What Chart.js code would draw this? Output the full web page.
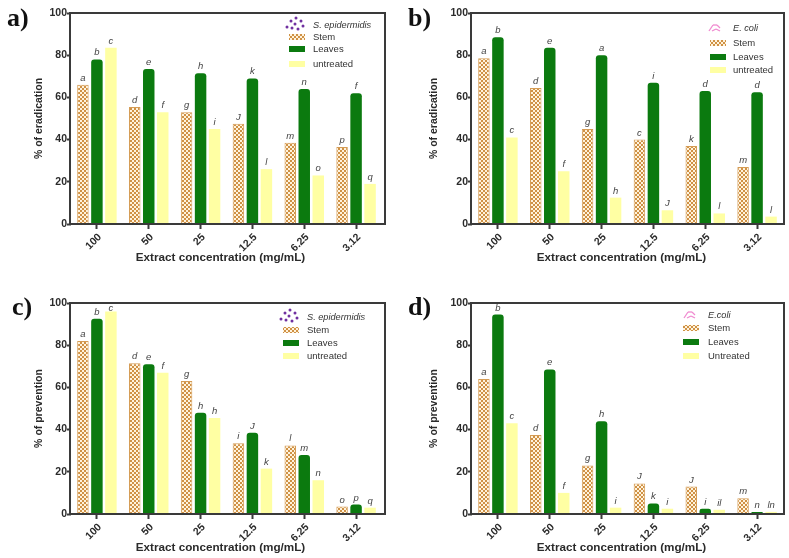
<!DOCTYPE html>
<html>
<head>
<meta charset="utf-8">
<script src="https://cdn.jsdelivr.net/npm/chart.js@4"></script>
<style>
  html, body { margin: 0; padding: 0; background: #fff; }
  #page { position: relative; width: 789px; height: 558px; overflow: hidden; }
  .panel { position: absolute; filter: blur(0.6px); }
</style>
</head>
<body>
<div id="page">
  <div class="panel" style="left:0;top:0;width:395px;height:280px"><canvas id="chartA"></canvas></div>
  <div class="panel" style="left:395px;top:0;width:394px;height:280px"><canvas id="chartB"></canvas></div>
  <div class="panel" style="left:0;top:280px;width:395px;height:278px"><canvas id="chartC"></canvas></div>
  <div class="panel" style="left:395px;top:280px;width:394px;height:278px"><canvas id="chartD"></canvas></div>
</div>
<script>
const categories = ["100", "50", "25", "12.5", "6.25", "3.12"];
const yTicks = [0, 20, 40, 60, 80, 100];
const xTitle = "Extract concentration (mg/mL)";

const aStem = [66, 55.5, 53, 47.5, 38.5, 36.5];
const aLeaves = [78, 73.5, 71.5, 69, 64, 62];
const aUntreated = [83.5, 53, 45, 26, 23, 19];
const aStemLetters = ["a", "d", "g", "J", "m", "p"];
const aLeavesLetters = ["b", "e", "h", "k", "n", "f"];
const aUntreatedLetters = ["c", "f", "i", "l", "o", "q"];

const bStem = [78.5, 64.5, 45, 40, 37, 27];
const bLeaves = [88.5, 83.5, 80, 67, 63, 62.5];
const bUntreated = [41, 25, 12.5, 6.5, 5, 3.5];
const bStemLetters = ["a", "d", "g", "c", "k", "m"];
const bLeavesLetters = ["b", "e", "a", "i", "d", "d"];
const bUntreatedLetters = ["c", "f", "h", "J", "l", "l"];

const cStem = [82, 71.5, 63, 33.5, 32.5, 3.5];
const cLeaves = [92.5, 71, 48, 38.5, 28, 4.5];
const cUntreated = [96, 67, 45.5, 21.5, 16, 3];
const cStemLetters = ["a", "d", "g", "i", "l", "o"];
const cLeavesLetters = ["b", "e", "h", "J", "m", "p"];
const cUntreatedLetters = ["c", "f", "h", "k", "n", "q"];

const dStem = [64, 37.5, 23, 14.5, 13, 7.5];
const dLeaves = [94.5, 68.5, 44, 5, 2.5, 1];
const dUntreated = [43, 10, 3, 2.5, 2, 1];
const dStemLetters = ["a", "d", "g", "J", "J", "m"];
const dLeavesLetters = ["b", "e", "h", "k", "i", "n"];
const dUntreatedLetters = ["c", "f", "i", "i", "il", "ln"];

const inkColor = "#2b2b2b";
const frameColor = "#3a3a3a";
const leavesColor = "#0b7a0f";
const untreatedColor = "#ffffa3";
const stemEdge = "#d59c55";

// checker fill for the stem bars
function stemPattern() {
  const c = document.createElement("canvas");
  c.width = 4;
  c.height = 4;
  const g = c.getContext("2d");
  g.fillStyle = "#cf9145";
  g.fillRect(0, 0, 4, 4);
  g.fillStyle = "#fff3dc";
  g.fillRect(0, 0, 2, 2);
  g.fillRect(2, 2, 2, 2);
  return g.createPattern(c, "repeat");
}
const stemFill = stemPattern();

function drawDots(ctx, x, y) {
  const spots = [[0, 9], [4, 3], [9, 0], [8, 6], [14, 3], [16, 8], [11, 11], [5, 10]];
  ctx.fillStyle = "#7030a0";
  spots.forEach(function (s) {
    ctx.beginPath();
    ctx.arc(x + s[0], y + s[1], 1.5, 0, Math.PI * 2);
    ctx.fill();
  });
}

function drawRods(ctx, x, y) {
  ctx.strokeStyle = "#f08ad0";
  ctx.lineWidth = 1.3;
  [[0, 7, 4, 1], [4, 1, 8, 1], [3, 7, 7, 5], [7, 5, 11, 7], [8, 1, 11, 4]].forEach(function (s) {
    ctx.beginPath();
    ctx.moveTo(x + s[0], y + s[1]);
    ctx.lineTo(x + s[2], y + s[3]);
    ctx.stroke();
  });
}

// letters, frame, x title, legend and panel tag
const annotate = {
  id: "annotate",
  afterDatasetsDraw(chart, args, opts) {
    const ctx = chart.ctx;
    const a = chart.chartArea;
    ctx.save();
    ctx.font = "italic 9.5px 'Liberation Sans'";
    ctx.fillStyle = "#444";
    ctx.textAlign = "center";
    ctx.textBaseline = "alphabetic";
    chart.data.datasets.forEach(function (ds, i) {
      chart.getDatasetMeta(i).data.forEach(function (bar, j) {
        // keep letters of the tallest bars inside the frame
        ctx.fillText(ds.letters[j], bar.x, Math.max(bar.y - 4, a.top + 8));
      });
    });

    ctx.strokeStyle = frameColor;
    ctx.lineWidth = 2;
    ctx.strokeRect(a.left - 1, a.top, a.right - a.left + 1 + opts.frameExtra, a.bottom - a.top);

    // the title sits left of the plot centre in the source figure
    ctx.font = "bold 11.7px 'Liberation Sans'";
    ctx.fillStyle = inkColor;
    ctx.textBaseline = "middle";
    ctx.fillText(xTitle, (a.left + a.right) / 2 - 6, a.bottom + 34);

    const lg = opts.legend;
    ctx.textAlign = "left";
    ctx.fillStyle = "#333";
    ctx.font = "italic 9.2px 'Liberation Sans'";
    ctx.fillText(lg.organism, lg.textX, lg.organismY);
    if (opts.dots) drawDots(ctx, lg.iconX, lg.organismY - 7);
    else drawRods(ctx, lg.iconX, lg.organismY - 4);
    ctx.font = "9.5px 'Liberation Sans'";
    chart.data.datasets.forEach(function (ds, i) {
      const y = lg.rows[i];
      ctx.fillStyle = ds.backgroundColor;
      ctx.fillRect(lg.swatchX, y - 3, 16, 6);
      ctx.fillStyle = "#333";
      ctx.fillText(lg.labels[i], lg.textX, y);
    });

    ctx.font = "bold 26px 'Liberation Serif'";
    ctx.fillStyle = "#111";
    ctx.textBaseline = "alphabetic";
    ctx.fillText(opts.tag, opts.tagX, opts.tagY);
    ctx.restore();
  }
};

function makeChart(id, p) {
  return new Chart(document.getElementById(id), {
    type: "bar",
    data: {
      labels: categories,
      datasets: [
        { label: p.legend.labels[0], data: p.stem, letters: p.stemLetters, backgroundColor: stemFill, borderColor: stemEdge, borderWidth: 1 },
        { label: p.legend.labels[1], data: p.leaves, letters: p.leavesLetters, backgroundColor: leavesColor, borderRadius: { topLeft: 3, topRight: 3 } },
        { label: p.legend.labels[2], data: p.untreated, letters: p.untreatedLetters, backgroundColor: untreatedColor }
      ]
    },
    options: {
      responsive: true,
      maintainAspectRatio: false,
      animation: false,
      categoryPercentage: 0.81,
      barPercentage: 0.82,
      layout: { padding: { left: 33, right: p.padRight, top: p.top, bottom: p.padBottom } },
      plugins: {
        legend: { display: false },
        tooltip: { enabled: false },
        annotate: { frameExtra: p.frameExtra, legend: p.legend, dots: p.dots, tag: p.tag, tagX: p.tagX, tagY: p.tagY }
      },
      scales: {
        x: {
          border: { display: false },
          grid: { drawOnChartArea: false, offset: false, tickLength: 5, tickWidth: 2, tickColor: frameColor },
          ticks: { minRotation: 45, maxRotation: 45, labelOffset: 3, color: inkColor, font: { family: "'Liberation Sans'", size: 10.5, weight: "bold" }, padding: 2 },
          afterFit(s) { s.height = 42; }
        },
        y: {
          min: 0,
          max: 100,
          border: { display: false },
          grid: { drawOnChartArea: false, tickLength: 4, tickWidth: 2, tickColor: frameColor },
          afterBuildTicks(s) { s.ticks = yTicks.map(function (v) { return { value: v }; }); },
          ticks: { color: inkColor, font: { family: "'Liberation Sans'", size: 10.5, weight: "bold" }, padding: 0 },
          title: { display: true, text: p.yTitle, color: inkColor, padding: 0, font: { family: "'Liberation Sans'", size: 10.5, weight: "bold" } },
          afterFit(s) { s.width = p.left - 33; }
        }
      }
    },
    plugins: [annotate]
  });
}

makeChart("chartA", {
  stem: aStem, leaves: aLeaves, untreated: aUntreated,
  stemLetters: aStemLetters, leavesLetters: aLeavesLetters, untreatedLetters: aUntreatedLetters,
  yTitle: "% of eradication", tag: "a)", tagX: 7, tagY: 26, dots: true,
  left: 71, padRight: 13, frameExtra: 3, top: 13, padBottom: 14,
  legend: { organism: "S. epidermidis", labels: ["Stem", "Leaves", "untreated"], iconX: 287, textX: 313, organismY: 25, swatchX: 289, rows: [37, 49, 64] }
});
makeChart("chartB", {
  stem: bStem, leaves: bLeaves, untreated: bUntreated,
  stemLetters: bStemLetters, leavesLetters: bLeavesLetters, untreatedLetters: bUntreatedLetters,
  yTitle: "% of eradication", tag: "b)", tagX: 13, tagY: 26, dots: false,
  left: 77, padRight: 6, frameExtra: 1, top: 13, padBottom: 14,
  legend: { organism: "E. coli", labels: ["Stem", "Leaves", "untreated"], iconX: 314, textX: 338, organismY: 28, swatchX: 315, rows: [43, 57, 70] }
});
makeChart("chartC", {
  stem: cStem, leaves: cLeaves, untreated: cUntreated,
  stemLetters: cStemLetters, leavesLetters: cLeavesLetters, untreatedLetters: cUntreatedLetters,
  yTitle: "% of prevention", tag: "c)", tagX: 12, tagY: 35, dots: true,
  left: 71, padRight: 13, frameExtra: 3, top: 23, padBottom: 2,
  legend: { organism: "S. epidermidis", labels: ["Stem", "Leaves", "untreated"], iconX: 281, textX: 307, organismY: 37, swatchX: 283, rows: [50, 63, 76] }
});
makeChart("chartD", {
  stem: dStem, leaves: dLeaves, untreated: dUntreated,
  stemLetters: dStemLetters, leavesLetters: dLeavesLetters, untreatedLetters: dUntreatedLetters,
  yTitle: "% of prevention", tag: "d)", tagX: 13, tagY: 35, dots: false,
  left: 77, padRight: 6, frameExtra: 1, top: 23, padBottom: 2,
  legend: { organism: "E.coli", labels: ["Stem", "Leaves", "Untreated"], iconX: 289, textX: 313, organismY: 35, swatchX: 288, rows: [48, 62, 76] }
});
</script>
</body>
</html>
